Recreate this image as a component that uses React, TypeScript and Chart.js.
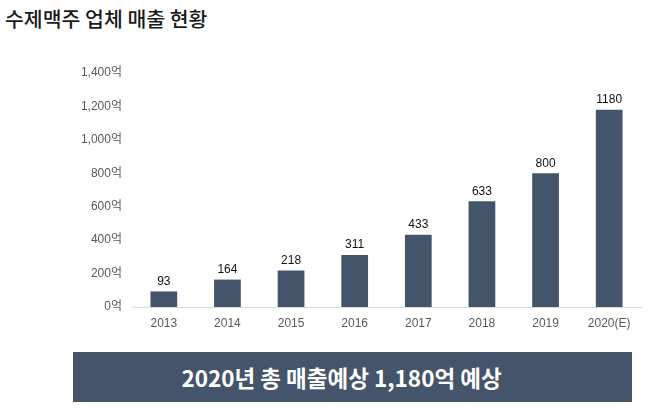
import React, { useEffect, useRef } from "react";
import { Chart, registerables } from "chart.js";

Chart.register(...registerables);

const categories = ["2013", "2014", "2015", "2016", "2017", "2018", "2019", "2020(E)"];
const revenue = [93, 164, 218, 311, 433, 633, 800, 1180];
const yTicks = [0, 200, 400, 600, 800, 1000, 1200, 1400];
const titleText = "수제맥주 업체 매출 현황";
const bannerText = "2020년 총 매출예상 1,180억 예상";

const BAR_COLOR = "#44546a";
const FONT = "'Liberation Sans', Arial, 'Noto Sans CJK KR', sans-serif";

const valueLabels = {
  id: "valueLabels",
  afterDatasetsDraw(chart: any) {
    const ctx = chart.ctx;
    const meta = chart.getDatasetMeta(0);
    ctx.save();
    ctx.fillStyle = "#111";
    ctx.font = `12px ${FONT}`;
    ctx.textAlign = "center";
    ctx.textBaseline = "bottom";
    meta.data.forEach((bar: any, i: number) => {
      ctx.fillText(String(revenue[i]), bar.x, bar.y - 4);
    });
    ctx.restore();
  },
};

export default function App() {
  const ref = useRef<HTMLCanvasElement | null>(null);
  useEffect(() => {
    if (!ref.current) return;
    const chart = new Chart(ref.current, {
      type: "bar",
      data: {
        labels: categories,
        datasets: [
          {
            data: revenue,
            backgroundColor: BAR_COLOR,
            categoryPercentage: 1,
            barPercentage: 0.42,
          },
        ],
      },
      options: {
        responsive: false,
        animation: false,
        layout: { padding: { top: 73, left: 0, right: 17, bottom: 8 } },
        plugins: { legend: { display: false }, tooltip: { enabled: false } },
        scales: {
          x: {
            grid: { display: false, drawTicks: false },
            border: { display: true, color: "#d9d9d9", width: 1 },
            ticks: { color: "#595959", font: { size: 12, family: FONT }, padding: 9 },
            afterFit(scale: any) {
              scale.height = 30;
            },
          },
          y: {
            min: 0,
            max: 1400,
            grid: { display: false, drawTicks: false },
            border: { display: false },
            afterBuildTicks(scale: any) {
              scale.ticks = yTicks.map((v) => ({ value: v }));
            },
            ticks: {
              color: "#595959",
              font: { size: 12, family: FONT },
              padding: 10,
              callback: (v: any) => Number(v).toLocaleString("en-US") + "억",
            },
            afterFit(scale: any) {
              scale.width = 132;
            },
          },
        },
      },
      plugins: [valueLabels],
    });
    return () => chart.destroy();
  }, []);

  return (
    <div
      style={{
        position: "fixed",
        left: 0,
        top: 0,
        width: 658,
        height: 411,
        background: "#fff",
        overflow: "hidden",
      }}
    >
      <div
        style={{
          position: "absolute",
          left: 5,
          top: 4,
          fontFamily: "'Noto Sans CJK KR', sans-serif",
          fontSize: 20.5,
          fontWeight: 500,
          color: "#1a1a1a",
          lineHeight: "28px",
          whiteSpace: "nowrap",
        }}
      >
        {titleText}
      </div>
      <canvas
        ref={ref}
        width={658}
        height={345}
        style={{ position: "absolute", left: 0, top: 0, width: 658, height: 345 }}
      />
      <div
        style={{
          position: "absolute",
          left: 73,
          top: 352,
          width: 559,
          height: 50,
          boxSizing: "border-box",
          paddingRight: 22,
          background: BAR_COLOR,
          color: "#fff",
          display: "flex",
          alignItems: "center",
          justifyContent: "center",
          fontFamily: "'Noto Sans CJK KR', sans-serif",
          fontWeight: 700,
          fontSize: 22.5,
          whiteSpace: "nowrap",
        }}
      >
        {bannerText}
      </div>
    </div>
  );
}
